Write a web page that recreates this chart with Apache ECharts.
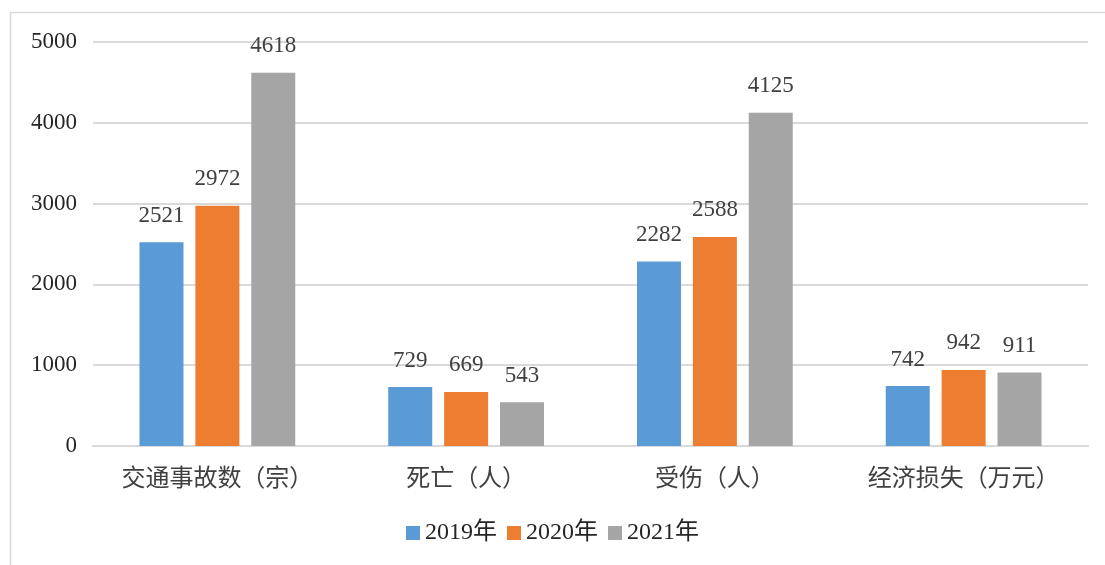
<!DOCTYPE html>
<html>
<head>
<meta charset="UTF-8">
<title></title>
<style type="text/css">
	* { margin: 0; padding: 0; }
	#main { width: 1105px; height: 565px; background: #fff; }
</style>
</head>
<body>
<div id="main"></div>
<script src="https://cdn.jsdelivr.net/npm/echarts@6/dist/echarts.min.js"></script>
<script type="text/javascript">
	var categories = ['交通事故数（宗）', '死亡（人）', '受伤（人）', '经济损失（万元）'];
	var years = ['2019年', '2020年', '2021年'];
	var data2019 = [2521, 729, 2282, 742];
	var data2020 = [2972, 669, 2588, 942];
	var data2021 = [4618, 543, 4125, 911];
	var yTicks = [0, 1000, 2000, 3000, 4000, 5000];
	var colors = ['#5b9bd5', '#ed7d31', '#a5a5a5'];

	var fontFam = '"Liberation Serif", "Noto Sans CJK SC", serif';
	var chart = echarts.init(document.getElementById('main'));

	function makeSerie(name, values) {
		return {
			name: name,
			type: 'bar',
			barWidth: 44,
			barGap: '27%',
			data: values,
			label: {
				show: true,
				position: 'top',
				distance: 15,
				color: '#404040',
				fontFamily: fontFam,
				fontSize: 23
			}
		};
	}

	chart.setOption({
		color: colors,
		animation: false,
		graphic: [{
			type: 'rect',
			shape: { x: 10.5, y: 12.5, width: 1110, height: 570 },
			style: { fill: 'none', stroke: '#d9d9d9', lineWidth: 1.5 },
			silent: true
		}],
		grid: { left: 93, right: 17, top: 42, bottom: 119 },
		legend: {
			data: years,
			bottom: 15,
			left: 'center',
			itemWidth: 14,
			itemHeight: 14,
			itemGap: 10,
			icon: 'rect',
			textStyle: { color: '#262626', fontFamily: fontFam, fontSize: 24 }
		},
		xAxis: {
			type: 'category',
			data: categories,
			axisLine: { lineStyle: { color: '#d9d9d9', width: 2 } },
			axisTick: { show: false },
			axisLabel: { color: '#404040', fontFamily: fontFam, fontSize: 24, margin: 22, interval: 0 }
		},
		yAxis: {
			type: 'value',
			min: yTicks[0],
			max: yTicks[yTicks.length - 1],
			interval: 1000,
			axisLine: { show: false },
			axisTick: { show: false },
			splitLine: { lineStyle: { color: '#d9d9d9', width: 2 } },
			axisLabel: {
				color: '#262626', fontFamily: fontFam, fontSize: 23, margin: 16,
				formatter: function(v) { return String(v); }
			}
		},
		series: [
			makeSerie(years[0], data2019),
			makeSerie(years[1], data2020),
			makeSerie(years[2], data2021)
		]
	});
</script>
</body>
</html>
